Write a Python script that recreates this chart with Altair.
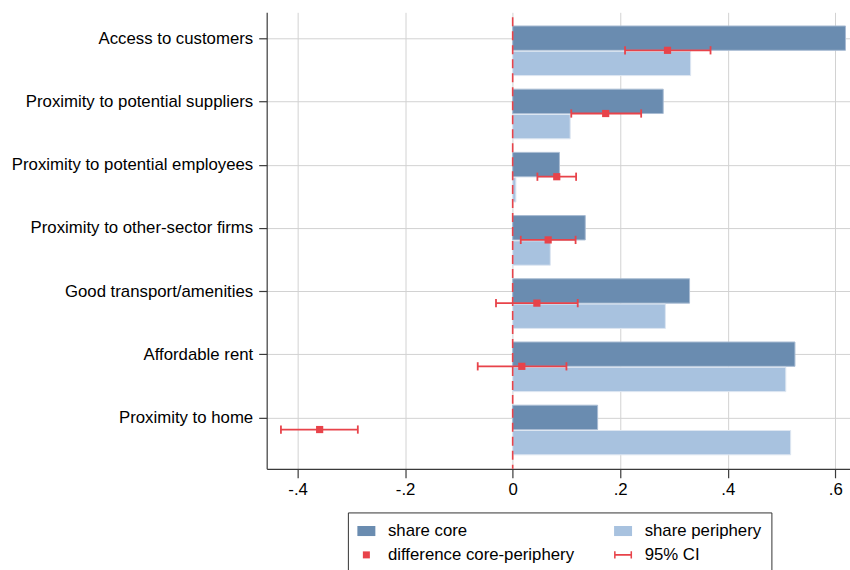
import json
import altair as alt
import pandas as pd

categories = [
    "Access to customers",
    "Proximity to potential suppliers",
    "Proximity to potential employees",
    "Proximity to other-sector firms",
    "Good transport/amenities",
    "Affordable rent",
    "Proximity to home",
]
share_core = [0.619, 0.280, 0.087, 0.135, 0.329, 0.525, 0.158]
share_periphery = [0.331, 0.107, 0.006, 0.070, 0.284, 0.508, 0.517]
difference = [0.288, 0.173, 0.082, 0.066, 0.045, 0.017, -0.359]
ci_low = [0.209, 0.109, 0.046, 0.015, -0.031, -0.065, -0.431]
ci_high = [0.368, 0.239, 0.118, 0.117, 0.121, 0.100, -0.288]
# legend entries, in column-major order (col 1: core, difference; col 2: periphery, CI)
legend_labels = ["share core", "difference core-periphery", "share periphery", "95% CI"]
x_ticks = [-0.4, -0.2, 0, 0.2, 0.4, 0.6]

CORE = "#6a8cb0"
PERIPH = "#a8c2df"
RED = "#e8434a"
FONT = "Liberation Sans"
FS = 16.8

pos = list(range(len(categories)))
df = pd.DataFrame({
    "pos": pos,
    "core": share_core,
    "periph": share_periphery,
    "diff": difference,
    "lo": ci_low,
    "hi": ci_high,
})
df["core_y0"] = df["pos"] - 0.195
df["core_y1"] = df["pos"] + 0.19
df["per_y0"] = df["pos"] + 0.205
df["per_y1"] = df["pos"] + 0.59
df["ci_y"] = df["pos"] + 0.19
df["cap_y0"] = df["pos"] + 0.125
df["cap_y1"] = df["pos"] + 0.255
df["zero"] = 0.0

W, H = 584, 457
x_scale = alt.Scale(domain=[-0.4575, 0.6274], nice=False, zero=False)
y_scale = alt.Scale(domain=[-0.411, 6.811], nice=False, zero=False, reverse=True)

x_axis = alt.Axis(
    title=None, values=x_ticks, grid=True, tickSize=9, labelPadding=4,
    labelExpr="datum.value == 0 ? '0' : (datum.value < 0 ? '-' : '') + replace(format(abs(datum.value), '.1f'), '0.', '.')",
)
y_axis = alt.Axis(
    title=None, values=pos, grid=True, tickSize=8, labelPadding=6,
    labelExpr=json.dumps(categories) + "[datum.value]", labelLimit=400,
)

base = alt.Chart(df)

core_bars = base.mark_rect(fill=CORE, stroke="#a9bcd3", strokeWidth=1).encode(
    x=alt.X("zero:Q", scale=x_scale, axis=x_axis),
    x2="core:Q",
    y=alt.Y("core_y0:Q", scale=y_scale, axis=y_axis),
    y2="core_y1:Q",
)
per_bars = base.mark_rect(fill=PERIPH, stroke="#dde6f1", strokeWidth=1).encode(
    x=alt.X("zero:Q", scale=x_scale, axis=x_axis),
    x2="periph:Q",
    y=alt.Y("per_y0:Q", scale=y_scale, axis=y_axis),
    y2="per_y1:Q",
)
zero_line = alt.Chart(pd.DataFrame({"z": [0.0]})).mark_rule(
    color=RED, strokeDash=[9, 5], strokeWidth=1.6
).encode(
    x=alt.X("z:Q", scale=x_scale, axis=x_axis),
    y=alt.value(5),
    y2=alt.value(H),
)
ci_line = base.mark_rule(color=RED, strokeWidth=1.8).encode(
    x=alt.X("lo:Q", scale=x_scale, axis=x_axis),
    x2="hi:Q",
    y=alt.Y("ci_y:Q", scale=y_scale, axis=y_axis),
)
cap_lo = base.mark_rule(color=RED, strokeWidth=1.8).encode(
    x=alt.X("lo:Q", scale=x_scale, axis=x_axis),
    y=alt.Y("cap_y0:Q", scale=y_scale, axis=y_axis),
    y2="cap_y1:Q",
)
cap_hi = base.mark_rule(color=RED, strokeWidth=1.8).encode(
    x=alt.X("hi:Q", scale=x_scale, axis=x_axis),
    y=alt.Y("cap_y0:Q", scale=y_scale, axis=y_axis),
    y2="cap_y1:Q",
)
points = base.mark_square(size=52, color=RED, opacity=1).encode(
    x=alt.X("diff:Q", scale=x_scale, axis=x_axis),
    y=alt.Y("ci_y:Q", scale=y_scale, axis=y_axis),
)

rect_path = "M-1,-0.56H1V0.56H-1Z"
sq_path = "M-0.39,-0.39H0.39V0.39H-0.39Z"
ci_path = "M-1,-0.4H-0.83V-0.09H0.83V-0.4H1V0.4H0.83V0.09H-0.83V0.4H-1Z"

leg = alt.Legend(
    title=None, orient="none", legendX=81.3, legendY=500.7, columns=2,
    columnPadding=40, rowPadding=6, padding=9.5, strokeColor="#333333",
    fillColor="white", symbolSize=324, labelFontSize=FS, labelFont=FONT,
    labelColor="black", labelOffset=12.6, labelLimit=300, symbolStrokeWidth=0,
)
legend_df = pd.DataFrame({"series": legend_labels})
legend_layer = alt.Chart(legend_df).mark_point(filled=True, opacity=1).encode(
    color=alt.Color("series:N", scale=alt.Scale(domain=legend_labels, range=[CORE, RED, PERIPH, RED]), legend=leg),
    shape=alt.Shape("series:N", scale=alt.Scale(domain=legend_labels, range=[rect_path, sq_path, rect_path, ci_path]), legend=leg),
).transform_filter("false")

chart = alt.layer(
    core_bars, per_bars, zero_line, ci_line, cap_lo, cap_hi, points, legend_layer
).properties(
    width=W, height=H,
    autosize=alt.AutoSizeParams(type="none"),
    padding={"left": 267, "top": 12, "right": 0, "bottom": 110},
    background="white",
).configure_view(stroke=None).configure_axis(
    gridColor="#d2d2d2", gridWidth=1, domainColor="#3a3a3a", tickColor="#3a3a3a",
    labelColor="black", labelFont=FONT, labelFontSize=FS, domainWidth=1.2, tickWidth=1.2,
)

chart.save("out.html", embed_options={"renderer": "svg", "actions": False})
